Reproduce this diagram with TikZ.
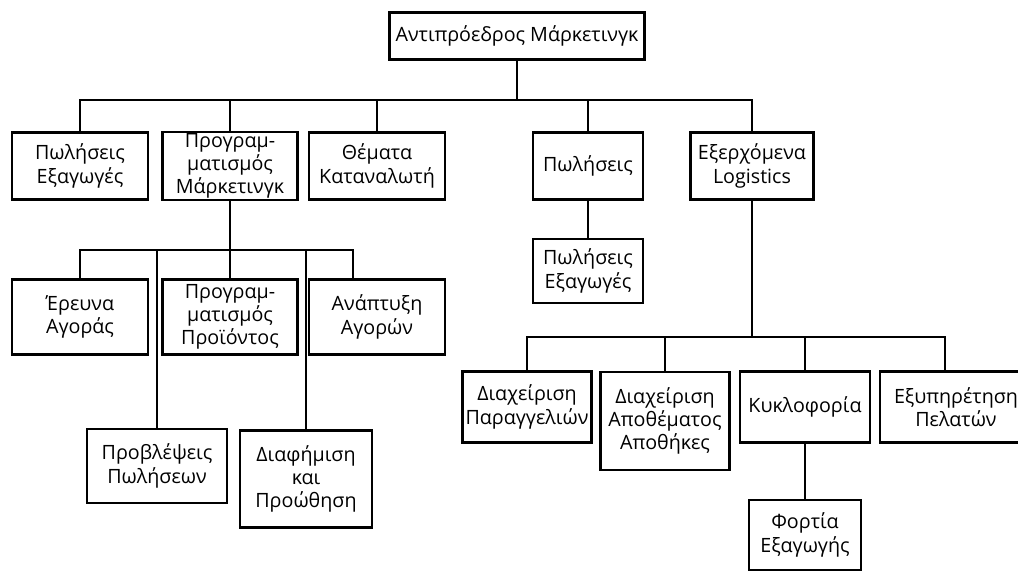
\documentclass[tikz,border=0pt]{standalone}
\usepackage{fontspec}
\setmainfont{Open Sans}
\usepackage{tikz}
\usetikzlibrary{positioning}

\begin{document}
\begin{tikzpicture}[x=0.025cm, y=-0.025cm,
    every node/.style={font=\fontsize{14}{16.5}\selectfont, align=center, inner sep=1pt},
    box/.style={draw, line width=1.5pt, minimum width=3.4cm, minimum height=1.675cm},
    conn/.style={line width=1.1pt}]

    \useasboundingbox (0,0) rectangle (1018,571);
    \clip (0,0) rectangle (1018,571);

    % top
    \node[box, minimum width=6.375cm, minimum height=1.175cm] (vp) at (517,36) {Αντιπρόεδρος Μάρκετινγκ};

    % first level
    \node[box] (pexag) at (80,166) {Πωλήσεις\\Εξαγωγές};
    \node[box, minimum width=3.375cm] (progm) at (230,166) {Προγραμ-\\ματισμός\\Μάρκετινγκ};
    \node[box] (themata) at (377,166) {Θέματα\\Καταναλωτή};
    \node[box, minimum width=2.75cm] (polhseis) at (588,166) {Πωλήσεις};
    \node[box, minimum width=3.075cm] (logist) at (752,166) {Εξερχόμενα\\Logistics};

    % under marketing programme
    \node[box, minimum height=1.875cm] (ereuna) at (80,317) {Έρευνα\\Αγοράς};
    \node[box, minimum width=3.375cm, minimum height=1.875cm] (progp) at (230,317) {Προγραμ-\\ματισμός\\Προϊόντος};
    \node[box, minimum height=1.875cm] (anap) at (377,317) {Ανάπτυξη\\Αγορών};
    \node[box, minimum width=3.5cm, minimum height=1.85cm] (provl) at (157,466) {Προβλέψεις\\Πωλήσεων};
    \node[box, minimum width=3.3cm, minimum height=2.425cm] (diaf) at (306,479) {Διαφήμιση\\και\\Προώθηση};

    % under sales
    \node[box, minimum width=2.75cm, minimum height=1.6cm] (pexag2) at (588,271) {Πωλήσεις\\Εξαγωγές};

    % under logistics
    \node[box, minimum width=3.225cm, minimum height=1.775cm] (paragg) at (527,407) {Διαχείριση\\Παραγγελιών};
    \node[box, minimum width=3.225cm, minimum height=2.45cm] (apoth) at (665,421) {Διαχείριση\\Αποθέματος\\Αποθήκες};
    \node[box, minimum width=3.25cm, minimum height=1.775cm] (kykl) at (805,407) {Κυκλοφορία};
    \node[box, minimum width=3.8cm, minimum height=1.775cm] (exyp) at (956,407) {Εξυπηρέτηση\\Πελατών};
    \node[box, minimum width=2.8cm, minimum height=1.75cm] (fortia) at (805,535) {Φορτία\\Εξαγωγής};

    \coordinate (bus1) at (517,100);
    \coordinate (bus2) at (230,250);
    \coordinate (bus3) at (752,337);

    \draw[conn] (vp.south) -- (bus1);
    \foreach \n in {pexag,progm,themata,polhseis,logist}
        \draw[conn] (\n.north) |- (bus1);

    \draw[conn] (progm.south) -- (bus2);
    \foreach \n in {ereuna,progp}
        \draw[conn] (\n.north) |- (bus2);
    \draw[conn] ([xshift=-0.6cm]anap.north) |- (bus2);
    \draw[conn] (provl.north) |- (bus2);
    \draw[conn] (diaf.north) |- (bus2);

    \draw[conn] (polhseis.south) -- (pexag2.north);

    \draw[conn] (logist.south) -- (bus3);
    \foreach \n in {paragg,apoth,kykl}
        \draw[conn] (\n.north) |- (bus3);
    \draw[conn] ([xshift=-0.275cm]exyp.north) |- (bus3);
    \draw[conn] (kykl.south) -- (fortia.north);
\end{tikzpicture}
\end{document}
